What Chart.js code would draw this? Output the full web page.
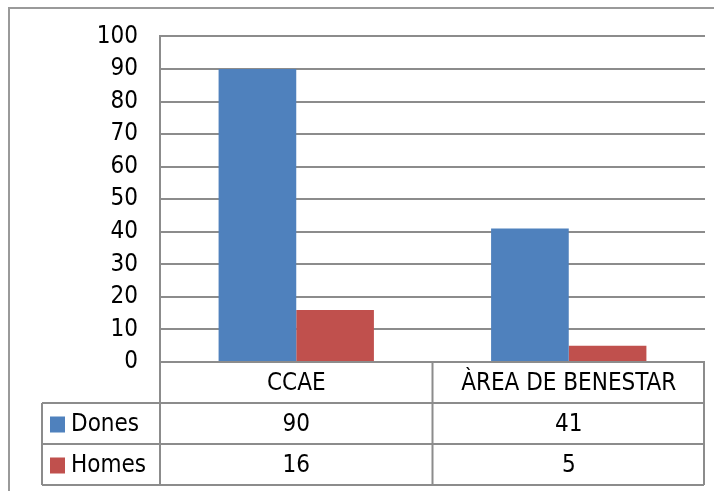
<!DOCTYPE html>
<html>
<head>
<meta charset="utf-8">
<script src="https://cdn.jsdelivr.net/npm/chart.js@4.4.1/dist/chart.umd.min.js"></script>
<style>
  html, body { margin: 0; padding: 0; background: #fff; }
  #wrap { width: 714px; height: 491px; position: relative; }
</style>
</head>
<body>
<div id="wrap"><canvas id="grafico" width="714" height="491"></canvas></div>
<script>
// === DADES ================================================================
const categories = ['CCAE', 'ÀREA DE BENESTAR'];
const dones = [90, 41];
const homes = [16, 5];
const yTicks = [0, 10, 20, 30, 40, 50, 60, 70, 80, 90, 100];

// === ESTIL ================================================================
const FONT = '"DejaVu Sans Condensed", "Liberation Sans", sans-serif';
const GRIS = '#8c8c8c';
const BLAU = '#4f81bd';
const VERM = '#c0504d';

// taula de dades sota el gràfic (estil Excel)
const taulaPlugin = {
  id: 'taula',
  afterDraw(chart) {
    const { ctx, chartArea: a, scales: { x } } = chart;
    const series = [
      { nom: 'Dones', color: BLAU, vals: dones },
      { nom: 'Homes', color: VERM, vals: homes }
    ];
    const rowH = 41;
    const top = a.bottom;
    const leftCol = 42;
    const right = a.right - 1;
    const mid = (x.getPixelForValue(0) + x.getPixelForValue(1)) / 2;

    ctx.save();
    ctx.strokeStyle = GRIS;
    ctx.lineWidth = 2;
    ctx.beginPath();
    // verticals
    ctx.moveTo(a.left, top); ctx.lineTo(a.left, top + rowH * 3);
    ctx.moveTo(mid, top); ctx.lineTo(mid, top + rowH * 3);
    ctx.moveTo(right, top); ctx.lineTo(right, top + rowH * 3);
    ctx.moveTo(leftCol, top + rowH); ctx.lineTo(leftCol, top + rowH * 3);
    // horitzontals
    for (let i = 1; i <= 3; i++) {
      ctx.moveTo(leftCol, top + rowH * i); ctx.lineTo(right, top + rowH * i);
    }
    ctx.stroke();

    // marc exterior
    ctx.strokeStyle = '#9a9a9a';
    ctx.beginPath();
    ctx.moveTo(9, 491); ctx.lineTo(9, 8); ctx.lineTo(714, 8);
    ctx.stroke();

    ctx.fillStyle = '#000';
    ctx.font = '24px ' + FONT;
    ctx.textBaseline = 'middle';
    ctx.textAlign = 'center';
    categories.forEach((c, i) => {
      ctx.fillText(c, x.getPixelForValue(i), top + rowH / 2 + 1);
    });
    series.forEach((s, r) => {
      const cy = top + rowH * (r + 1) + rowH / 2 + 1;
      ctx.textAlign = 'center';
      s.vals.forEach((v, i) => ctx.fillText(String(v), x.getPixelForValue(i), cy));
      ctx.fillStyle = s.color;
      ctx.fillRect(50, cy - 8, 15, 16);
      ctx.fillStyle = '#000';
      ctx.textAlign = 'left';
      ctx.fillText(s.nom, 71, cy);
    });
    ctx.restore();
  }
};

// === GRÀFIC ===============================================================
const ctx = document.getElementById('grafico');
new Chart(ctx, {
  type: 'bar',
  data: {
    labels: categories,
    datasets: [
      { label: 'Dones', data: dones, backgroundColor: BLAU },
      { label: 'Homes', data: homes, backgroundColor: VERM }
    ]
  },
  options: {
    responsive: false,
    animation: false,
    layout: { padding: { top: 35, right: 9, bottom: 129, left: 10 } },
    plugins: { legend: { display: false }, tooltip: { enabled: false } },
    datasets: { bar: { categoryPercentage: 0.57, barPercentage: 1 } },
    scales: {
      x: { display: false },
      y: {
        min: 0,
        max: 100,
        afterFit: s => { s.width = 150; },
        afterBuildTicks: s => { s.ticks = yTicks.map(v => ({ value: v })); },
        border: { display: true, color: GRIS, width: 2 },
        grid: { color: GRIS, lineWidth: 2, drawTicks: false },
        ticks: { color: '#000', padding: 22, autoSkip: false, stepSize: 10, font: { family: FONT, size: 24 } }
      }
    }
  },
  plugins: [taulaPlugin]
});
</script>
</body>
</html>
